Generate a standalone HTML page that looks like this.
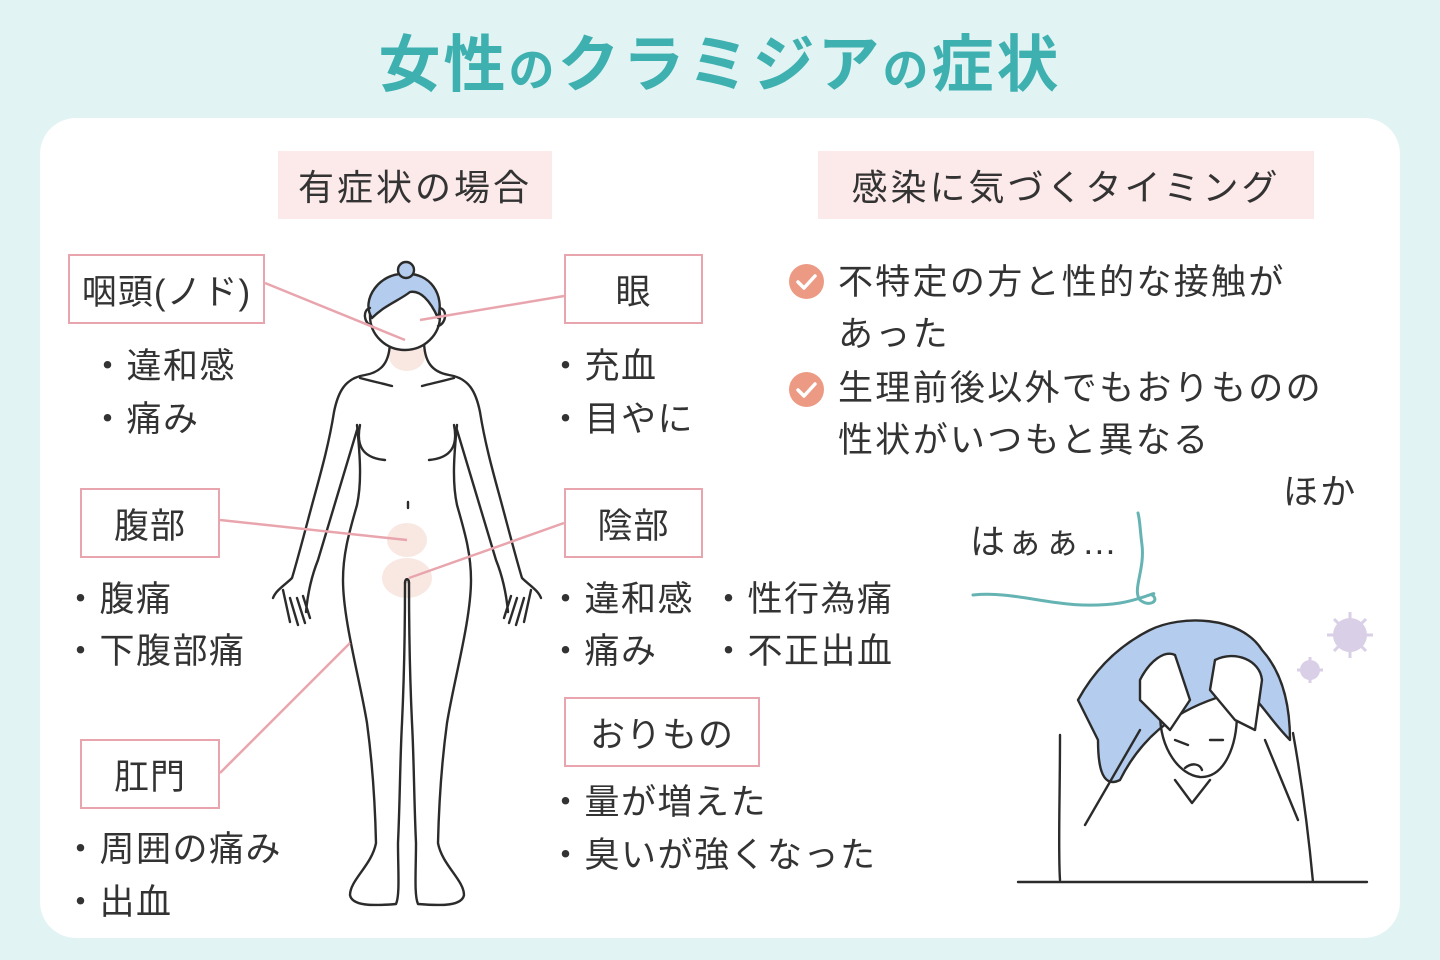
<!DOCTYPE html>
<html><head><meta charset="utf-8">
<style>
*{margin:0;padding:0;box-sizing:border-box}
body{width:1440px;height:960px;background:#e1f3f3;position:relative;overflow:hidden;font-family:"Liberation Sans","Noto Sans CJK JP",sans-serif;color:#333}
.title{position:absolute;top:28px;left:0;width:1440px;text-align:center;font-size:62px;font-weight:bold;color:#3fb0b0;letter-spacing:3px;line-height:76px}
.title small{font-size:46px}
.panel{position:absolute;left:40px;top:118px;width:1360px;height:820px;background:#fff;border-radius:36px}
.hd{position:absolute;background:#fce9ea;font-size:36px;display:flex;align-items:center;justify-content:center;letter-spacing:3px}
.bx{position:absolute;background:#fff;border:2.5px solid #e9a5ad;font-size:35px;display:flex;align-items:center;justify-content:center;letter-spacing:1px}
.t{position:absolute;font-size:35px;line-height:40px;white-space:nowrap;letter-spacing:1.5px}
.r{letter-spacing:2.3px}
svg{position:absolute;left:0;top:0}
.ck{position:absolute;width:35px;height:35px;border-radius:50%;background:#ec9a83}
</style></head><body>
<div class="title">女性<small>の</small>クラミジア<small>の</small>症状</div>
<div class="panel"></div>
<svg width="1440" height="960" viewBox="0 0 1440 960">
<g fill="#f8e6de" opacity="0.9">
<circle cx="420" cy="322" r="11"/>
<ellipse cx="407" cy="356" rx="18" ry="15"/>
<ellipse cx="407" cy="540" rx="20" ry="17"/>
<ellipse cx="407" cy="578" rx="25" ry="20"/>
</g>
<g fill="none" stroke="#2b2b2b" stroke-width="2.4" stroke-linecap="round" stroke-linejoin="round">
<g id="half">
<path d="M390,340 C390,362 382,372 365,375 C345,378 338,392 334,412 C328,450 318,482 308,520 C300,550 296,565 292,578 C285,585 276,590 273,598 M283,590 L290,622 M290,598 L298,625 M297,598 L305,623 M303,596 L310,618 M306,612 C308,590 312,575 318,560 C330,520 345,470 357,430"/>
<path d="M357,425 C360,455 362,482 357,505 C350,530 343,552 343,580 C343,620 360,680 367,723 C372,760 375,800 376,843 C372,865 350,880 350,895 C352,906 372,906 396,904 C400,895 398,870 398,843 C400,800 400,760 402,723 C404,680 405,620 405,583 C405,578 409,578 409,583"/>
<path d="M360,378 C375,382 385,384 392,386 M360,425 C356,445 362,458 385,460"/>
</g>
<use href="#half" transform="translate(814,0) scale(-1,1)"/>
<path d="M408,502 L408,508"/>
<ellipse cx="405" cy="316" rx="35" ry="34" fill="#fff"/>
<path d="M372,318 C360,300 380,272 405,274 C430,272 445,295 438,318 C430,300 420,290 410,292 C400,300 385,305 372,318 Z" fill="#b4cdee"/>
<circle cx="406" cy="270" r="8" fill="#b4cdee"/>
<path d="M370,308 C362,310 364,324 372,326 M440,308 C448,310 446,324 438,326"/>
<path d="M1060,735 C1060,800 1058,850 1060,880 M1293,733 C1305,800 1310,850 1313,882 M1018,882 L1367,882" />
<path d="M1078,700 C1100,660 1130,640 1150,630 C1180,615 1240,615 1262,650 C1280,670 1290,700 1290,740 C1270,720 1260,700 1245,690 C1200,700 1150,720 1120,780 C1100,790 1098,760 1098,740 Z" fill="#b4cdee"/>
<path d="M1160,713 C1160,750 1180,775 1200,777 C1225,778 1237,745 1237,713"/>
<path d="M1140,680 C1150,660 1165,650 1175,655 L1190,700 L1170,730 L1140,700 Z M1215,660 C1235,650 1260,660 1262,680 L1255,730 L1235,720 L1210,690 Z" fill="#fff"/>
<path d="M1085,825 L1140,730 M1298,820 L1265,740 M1175,780 L1192,803 L1210,780"/>
<path d="M1175,740 L1188,745 M1210,740 L1223,740 M1185,768 C1192,762 1200,764 1202,770"/>
</g>
<g stroke="#e9a5ad" stroke-width="2.5">
<line x1="265" y1="283" x2="405" y2="340"/>
<line x1="564" y1="296" x2="420" y2="320"/>
<line x1="220" y1="520" x2="407" y2="540"/>
<line x1="564" y1="523" x2="409" y2="578"/>
<line x1="220" y1="773" x2="350" y2="643"/>
</g>
<path d="M973,595 C1020,590 1060,612 1120,603 C1140,600 1160,590 1152,595 C1160,600 1150,608 1140,600 C1132,590 1145,570 1142,545 C1140,530 1140,520 1138,513" fill="none" stroke="#66b3b3" stroke-width="3" stroke-linecap="round"/>
<g fill="#d9cfe6">
<circle cx="1350" cy="635" r="17"/><circle cx="1310" cy="670" r="10"/>
<g stroke="#d9cfe6" stroke-width="3">
<line x1="1350" y1="612" x2="1350" y2="658"/><line x1="1327" y1="635" x2="1373" y2="635"/>
<line x1="1334" y1="619" x2="1366" y2="651"/><line x1="1366" y1="619" x2="1334" y2="651"/>
<line x1="1310" y1="657" x2="1310" y2="683"/><line x1="1297" y1="670" x2="1323" y2="670"/>
</g></g>
</svg>
<div class="hd" style="left:278px;top:151px;width:274px;height:68px">有症状の場合</div>
<div class="hd" style="left:818px;top:151px;width:496px;height:68px">感染に気づくタイミング</div>
<div class="bx" style="left:68px;top:254px;width:197px;height:70px">咽頭(ノド)</div>
<div class="bx" style="left:564px;top:254px;width:139px;height:70px">眼</div>
<div class="bx" style="left:80px;top:488px;width:140px;height:70px">腹部</div>
<div class="bx" style="left:564px;top:488px;width:139px;height:70px">陰部</div>
<div class="bx" style="left:80px;top:739px;width:140px;height:70px">肛門</div>
<div class="bx" style="left:564px;top:697px;width:196px;height:70px">おりもの</div>
<div class="t" style="left:90px;top:347px">・違和感</div>
<div class="t" style="left:90px;top:400px">・痛み</div>
<div class="t" style="left:548px;top:347px">・充血</div>
<div class="t" style="left:548px;top:400px">・目やに</div>
<div class="t" style="left:63px;top:580px">・腹痛</div>
<div class="t" style="left:63px;top:632px">・下腹部痛</div>
<div class="t" style="left:548px;top:580px">・違和感</div>
<div class="t" style="left:548px;top:632px">・痛み</div>
<div class="t" style="left:711px;top:580px">・性行為痛</div>
<div class="t" style="left:711px;top:632px">・不正出血</div>
<div class="t" style="left:63px;top:830px">・周囲の痛み</div>
<div class="t" style="left:63px;top:883px">・出血</div>
<div class="t" style="left:548px;top:783px">・量が増えた</div>
<div class="t" style="left:548px;top:836px">・臭いが強くなった</div>
<div class="ck" style="left:789px;top:264px"></div>
<div class="ck" style="left:789px;top:372px"></div>
<svg width="1440" height="960"><g fill="none" stroke="#fff" stroke-width="3.5" stroke-linecap="round" stroke-linejoin="round"><path d="M798,282 L804,288 L815,276"/><path d="M798,390 L804,396 L815,384"/></g></svg>
<div class="t r" style="left:838px;top:263px">不特定の方と性的な接触が</div>
<div class="t r" style="left:838px;top:315px">あった</div>
<div class="t r" style="left:838px;top:369px">生理前後以外でもおりものの</div>
<div class="t r" style="left:838px;top:421px">性状がいつもと異なる</div>
<div class="t r" style="left:1283px;top:473px">ほか</div>
<div class="t r" style="left:970px;top:523px">はぁぁ…</div>
</body></html>
